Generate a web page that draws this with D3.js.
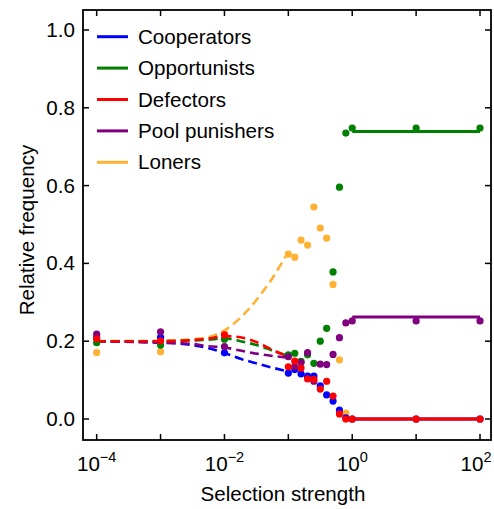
<!DOCTYPE html>
<html>
<head>
<meta charset="utf-8">
<script src="https://cdn.jsdelivr.net/npm/d3@7"></script>
<style>
  body { margin: 0; background: #fff; }
  svg text { font-family: 'Liberation Sans', Arial, Helvetica, sans-serif; fill: #000; }
</style>
</head>
<body>
<div class="container"></div>
<script>
// strategies, legend order
let names = ['Cooperators', 'Opportunists', 'Defectors', 'Pool punishers', 'Loners']
let colors = ['#0000ff', '#008000', '#ff0000', '#800080', '#ffb133']

// simulation points (selection strength)
let simX = [0.0001, 0.001, 0.01, 0.1, 0.126, 0.158, 0.2, 0.251, 0.316, 0.398, 0.501, 0.631, 0.794, 1, 10, 100]
let simCoop = [0.209, 0.21, 0.17, 0.118, 0.127, 0.116, 0.11, 0.11, 0.085, 0.062, 0.046, 0.023, 0.003, 0, 0, 0]
let simOpp = [0.196, 0.19, 0.205, 0.165, 0.169, 0.148, 0.165, 0.143, 0.2, 0.233, 0.378, 0.596, 0.735, 0.748, 0.748, 0.748]
let simDef = [0.206, 0.201, 0.216, 0.134, 0.149, 0.131, 0.103, 0.102, 0.077, 0.097, 0.059, 0.013, 0, 0, 0, 0]
let simPool = [0.218, 0.224, 0.186, 0.16, 0.134, 0.145, 0.171, 0.097, 0.141, 0.14, 0.166, 0.209, 0.247, 0.252, 0.252, 0.252]
let simLoner = [0.171, 0.173, 0.22, 0.424, 0.416, 0.46, 0.447, 0.545, 0.491, 0.465, 0.346, 0.152, 0.015, 0, 0, 0]

// weak selection approximation (dashed)
let weakX = [0.0001, 0.001, 0.00316, 0.00562, 0.01, 0.0178, 0.0316, 0.0562, 0.1]
let weakCoop = [0.2, 0.197, 0.19, 0.182, 0.17, 0.155, 0.143, 0.132, 0.122]
let weakOpp = [0.2, 0.2, 0.202, 0.204, 0.207, 0.2, 0.19, 0.176, 0.162]
let weakDef = [0.2, 0.2, 0.203, 0.207, 0.213, 0.21, 0.198, 0.178, 0.16]
let weakPool = [0.2, 0.196, 0.193, 0.187, 0.184, 0.176, 0.168, 0.162, 0.158]
let weakLoner = [0.2, 0.201, 0.205, 0.21, 0.228, 0.26, 0.306, 0.362, 0.43]

// strong selection limit (solid)
let strongX = [1, 100]
let strongCoop = [0, 0]
let strongOpp = [0.739, 0.739]
let strongDef = [0, 0]
let strongPool = [0.262, 0.262]
let strongLoner = [0, 0]

let xTicks = [-4, -2, 0, 2]
let xMajor = [-4, -3, -2, -1, 0, 1, 2]
let yTicks = [0, 0.2, 0.4, 0.6, 0.8, 1.0]

let sim = [simCoop, simOpp, simDef, simPool, simLoner]
let weak = [weakCoop, weakOpp, weakDef, weakPool, weakLoner]
let strong = [strongCoop, strongOpp, strongDef, strongPool, strongLoner]
let drawOrder = [4, 0, 1, 3, 2]

let width = 494
let height = 509
let margin = { top: 10, left: 83, right: 3, bottom: 69 }
let w = width - margin.left - margin.right
let h = height - margin.top - margin.bottom
let fs = '20.6px'

let xScale = d3.scaleLog()
    .domain([Math.pow(10, -4.214), Math.pow(10, 2.172)])
    .range([0, w])
let yScale = d3.scaleLinear()
    .domain([-0.054, 1.0514])
    .range([h, 0])

let svg = d3.select('.container')
    .append('svg')
    .attr('width', width)
    .attr('height', height)
    .append('g')
    .attr('transform', `translate(${margin.left},${margin.top})`)

let line = d3.line()
    .x(d => xScale(d[0]))
    .y(d => yScale(d[1]))

let smooth = d3.line()
    .curve(d3.curveMonotoneX)
    .x(d => xScale(d[0]))
    .y(d => yScale(d[1]))

drawOrder.forEach(i => {
    svg.append('path')
        .attr('d', smooth(weakX.map((x, j) => [x, weak[i][j]])))
        .attr('fill', 'none')
        .attr('stroke', colors[i])
        .attr('stroke-width', 2.6)
        .attr('stroke-dasharray', '9,5')

    svg.append('path')
        .attr('d', line(strongX.map((x, j) => [x, strong[i][j]])))
        .attr('fill', 'none')
        .attr('stroke', colors[i])
        .attr('stroke-width', 3)
})

drawOrder.forEach(i => {
    svg.selectAll('.dot' + i)
        .data(simX.map((x, j) => [x, sim[i][j]]))
        .enter()
        .append('circle')
        .attr('class', 'dot' + i)
        .attr('cx', d => xScale(d[0]))
        .attr('cy', d => yScale(d[1]))
        .attr('r', 3.6)
        .attr('fill', colors[i])
})

// frame and inward ticks
svg.append('rect')
    .attr('width', w)
    .attr('height', h)
    .attr('fill', 'none')
    .attr('stroke', '#000')
    .attr('stroke-width', 1.8)

let tickLen = 6
xMajor.forEach(e => {
    let x = xScale(Math.pow(10, e))
    svg.append('line').attr('x1', x).attr('x2', x).attr('y1', h).attr('y2', h - tickLen)
        .attr('stroke', '#000').attr('stroke-width', 1.5)
    svg.append('line').attr('x1', x).attr('x2', x).attr('y1', 0).attr('y2', tickLen)
        .attr('stroke', '#000').attr('stroke-width', 1.5)
})
yTicks.forEach(v => {
    let y = yScale(v)
    svg.append('line').attr('x1', 0).attr('x2', tickLen).attr('y1', y).attr('y2', y)
        .attr('stroke', '#000').attr('stroke-width', 1.5)
    svg.append('line').attr('x1', w).attr('x2', w - tickLen).attr('y1', y).attr('y2', y)
        .attr('stroke', '#000').attr('stroke-width', 1.5)
    svg.append('text')
        .attr('x', -8)
        .attr('y', y + 7)
        .attr('text-anchor', 'end')
        .style('font-size', fs)
        .text(v.toFixed(1))
})

xTicks.forEach(e => {
    // last label would run past the right edge, nudge it in a little
    let t = svg.append('text')
        .attr('x', xScale(Math.pow(10, e)) - (e === 2 ? 4 : 0))
        .attr('y', h + 31)
        .attr('text-anchor', 'middle')
        .style('font-size', fs)
    t.append('tspan').text('10')
    t.append('tspan')
        .attr('dy', -9)
        .style('font-size', '14.5px')
        .text(e < 0 ? '\u2212' + Math.abs(e) : String(e))
})

svg.append('text')
    .attr('x', w / 2 - 4)
    .attr('y', h + 61)
    .attr('text-anchor', 'middle')
    .style('font-size', fs)
    .text('Selection strength')

svg.append('text')
    .attr('transform', `translate(${34 - margin.left},${230 - margin.top}) rotate(-90)`)
    .attr('text-anchor', 'middle')
    .style('font-size', fs)
    .text('Relative frequency')

// legend
let legend = svg.append('g').attr('transform', 'translate(14,26.7)')
names.forEach((n, i) => {
    let g = legend.append('g').attr('transform', `translate(0,${i * 31.4})`)
    g.append('line')
        .attr('x1', 0).attr('x2', 31)
        .attr('stroke', colors[i])
        .attr('stroke-width', 3)
    g.append('text')
        .attr('x', 41)
        .attr('y', 7)
        .style('font-size', fs)
        .text(n)
})
</script>
</body>
</html>
